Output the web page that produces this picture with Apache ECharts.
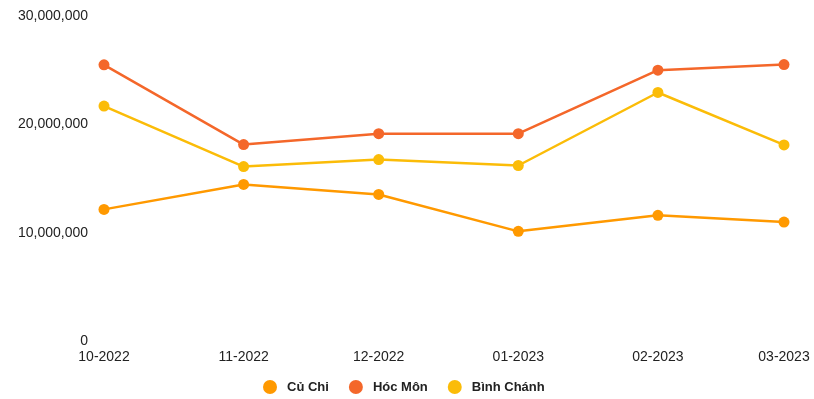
<!DOCTYPE html>
<html>
<head>
<meta charset="utf-8">
<script src="https://cdn.jsdelivr.net/npm/echarts@6/dist/echarts.min.js"></script>
<style>
  html, body { margin: 0; padding: 0; background: #fff; }
  #chart { width: 814px; height: 399px; }
</style>
</head>
<body>
<div id="chart"></div>
<script>
var months = ['2022-10-01', '2022-11-01', '2022-12-01', '2023-01-01', '2023-02-01', '2023-03-01'];
var monthLabels = ['10-2022', '11-2022', '12-2022', '01-2023', '02-2023', '03-2023'];
var cuChi = [12150000, 14450000, 13530000, 10120000, 11600000, 10980000];
var hocMon = [25490000, 18130000, 19140000, 19140000, 25000000, 25520000];
var binhChanh = [21690000, 16100000, 16750000, 16200000, 22940000, 18100000];

var chartDom = document.getElementById('chart');
var myChart = echarts.init(chartDom);
var option;

// month starts as timestamps, so spacing follows real month lengths
var stamps = months.map(function (m) { return Date.parse(m + 'T00:00:00Z'); });

function pairs(values) {
    return values.map(function (v, i) { return [stamps[i], v]; });
}

function lineSeries(name, values, color) {
    return {
        name: name,
        type: 'line',
        data: pairs(values),
        symbol: 'circle',
        symbolSize: 11,
        lineStyle: { width: 2.5, color: color },
        itemStyle: { color: color },
        emphasis: { disabled: true }
    };
}

option = {
    animation: false,
    textStyle: { fontFamily: 'Liberation Sans, Arial, sans-serif' },
    grid: { left: 104, right: 30, top: 16, bottom: 58 },
    legend: {
        bottom: 0,
        left: 258,
        icon: 'circle',
        itemWidth: 14,
        itemHeight: 14,
        itemGap: 20,
        textStyle: { fontSize: 13, fontWeight: 'bold', color: '#222', padding: [0, 0, 0, 5] },
        data: ['Củ Chi', 'Hóc Môn', 'Bình Chánh']
    },
    xAxis: {
        type: 'value',
        min: stamps[0],
        max: stamps[stamps.length - 1],
        axisLine: { show: false },
        axisTick: { show: false },
        splitLine: { show: false },
        axisLabel: {
            customValues: stamps,
            fontSize: 14,
            color: '#222',
            margin: 9,
            formatter: function (v) {
                var i = stamps.indexOf(v);
                return i >= 0 ? monthLabels[i] : '';
            }
        }
    },
    yAxis: {
        type: 'value',
        min: 0,
        max: 30000000,
        interval: 10000000,
        axisLine: { show: false },
        axisTick: { show: false },
        splitLine: { show: false },
        axisLabel: {
            fontSize: 14,
            color: '#222',
            margin: 16,
            formatter: function (v) { return v.toLocaleString('en-US'); }
        }
    },
    series: [
        lineSeries('Củ Chi', cuChi, '#ff9900'),
        lineSeries('Hóc Môn', hocMon, '#f4672a'),
        lineSeries('Bình Chánh', binhChanh, '#fbbc08')
    ]
};
option && myChart.setOption(option);
</script>
</body>
</html>
